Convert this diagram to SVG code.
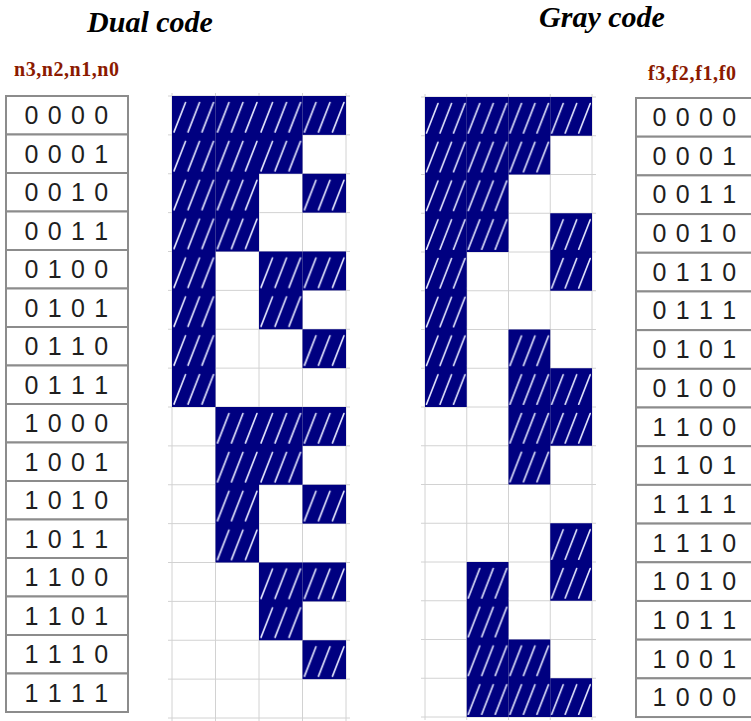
<svg xmlns="http://www.w3.org/2000/svg" width="751" height="721" viewBox="0 0 751 721">
<style>
.title{font-family:"Liberation Serif","Times New Roman",serif;font-weight:bold;font-style:italic;font-size:30px;fill:#000;text-anchor:middle}
.lab{font-family:"Liberation Serif","Times New Roman",serif;font-weight:bold;font-size:20px;fill:#8b1a00}
.tb{fill:#fff;stroke:#8c8c8c;stroke-width:2}
.num{font-family:"Liberation Sans",Arial,sans-serif;font-size:25px;fill:#1e1e1e;text-anchor:middle;letter-spacing:1.2px}
.grid{stroke:#d2d2d2;stroke-width:1;fill:none}
.h{stroke:#e8eaff;stroke-width:1.6;stroke-linecap:round}
</style>
<defs>
<pattern id="hatchL" patternUnits="userSpaceOnUse" x="172" y="96" width="43.5" height="38.875">
<rect width="43.5" height="38.875" fill="#000080"/>
<line class="h" x1="2" y1="36" x2="13.5" y2="6.5"/>
<line class="h" x1="16" y1="36" x2="27.5" y2="6.5"/>
<line class="h" x1="30" y1="36" x2="41.5" y2="6.5"/>
</pattern>
<pattern id="hatchR" patternUnits="userSpaceOnUse" x="425" y="97" width="41.75" height="38.75">
<rect width="41.75" height="38.75" fill="#000080"/>
<line class="h" x1="1.5" y1="36" x2="13" y2="6.5"/>
<line class="h" x1="15" y1="36" x2="26.5" y2="6.5"/>
<line class="h" x1="28.5" y1="36" x2="40" y2="6.5"/>
</pattern>
</defs>
<rect width="751" height="721" fill="#fff"/>

<g id="titles">
<text class="title" x="150" y="32">Dual code</text>
<text class="title" x="602" y="27">Gray code</text>
<text class="lab" x="14" y="76" textLength="105" lengthAdjust="spacing">n3,n2,n1,n0</text>
<text class="lab" x="648" y="80" textLength="88" lengthAdjust="spacing">f3,f2,f1,f0</text>
</g>

<g id="dual-table">
<rect class="tb" x="6" y="96" width="122" height="38.5"/><text class="num" x="67" y="124">0 0 0 0</text>
<rect class="tb" x="6" y="134.5" width="122" height="38.5"/><text class="num" x="67" y="162.5">0 0 0 1</text>
<rect class="tb" x="6" y="173" width="122" height="38.5"/><text class="num" x="67" y="201">0 0 1 0</text>
<rect class="tb" x="6" y="211.5" width="122" height="38.5"/><text class="num" x="67" y="239.5">0 0 1 1</text>
<rect class="tb" x="6" y="250" width="122" height="38.5"/><text class="num" x="67" y="278">0 1 0 0</text>
<rect class="tb" x="6" y="288.5" width="122" height="38.5"/><text class="num" x="67" y="316.5">0 1 0 1</text>
<rect class="tb" x="6" y="327" width="122" height="38.5"/><text class="num" x="67" y="355">0 1 1 0</text>
<rect class="tb" x="6" y="365.5" width="122" height="38.5"/><text class="num" x="67" y="393.5">0 1 1 1</text>
<rect class="tb" x="6" y="404" width="122" height="38.5"/><text class="num" x="67" y="432">1 0 0 0</text>
<rect class="tb" x="6" y="442.5" width="122" height="38.5"/><text class="num" x="67" y="470.5">1 0 0 1</text>
<rect class="tb" x="6" y="481" width="122" height="38.5"/><text class="num" x="67" y="509">1 0 1 0</text>
<rect class="tb" x="6" y="519.5" width="122" height="38.5"/><text class="num" x="67" y="547.5">1 0 1 1</text>
<rect class="tb" x="6" y="558" width="122" height="38.5"/><text class="num" x="67" y="586">1 1 0 0</text>
<rect class="tb" x="6" y="596.5" width="122" height="38.5"/><text class="num" x="67" y="624.5">1 1 0 1</text>
<rect class="tb" x="6" y="635" width="122" height="38.5"/><text class="num" x="67" y="663">1 1 1 0</text>
<rect class="tb" x="6" y="673.5" width="122" height="38.5"/><text class="num" x="67" y="701.5">1 1 1 1</text>
</g>

<g id="gray-table">
<rect class="tb" x="636" y="98" width="118" height="38.69"/><text class="num" x="695" y="126">0 0 0 0</text>
<rect class="tb" x="636" y="136.69" width="118" height="38.69"/><text class="num" x="695" y="164.69">0 0 0 1</text>
<rect class="tb" x="636" y="175.38" width="118" height="38.69"/><text class="num" x="695" y="203.38">0 0 1 1</text>
<rect class="tb" x="636" y="214.07" width="118" height="38.69"/><text class="num" x="695" y="242.07">0 0 1 0</text>
<rect class="tb" x="636" y="252.76" width="118" height="38.69"/><text class="num" x="695" y="280.76">0 1 1 0</text>
<rect class="tb" x="636" y="291.45" width="118" height="38.69"/><text class="num" x="695" y="319.45">0 1 1 1</text>
<rect class="tb" x="636" y="330.14" width="118" height="38.69"/><text class="num" x="695" y="358.14">0 1 0 1</text>
<rect class="tb" x="636" y="368.83" width="118" height="38.69"/><text class="num" x="695" y="396.83">0 1 0 0</text>
<rect class="tb" x="636" y="407.52" width="118" height="38.69"/><text class="num" x="695" y="435.52">1 1 0 0</text>
<rect class="tb" x="636" y="446.21" width="118" height="38.69"/><text class="num" x="695" y="474.21">1 1 0 1</text>
<rect class="tb" x="636" y="484.9" width="118" height="38.69"/><text class="num" x="695" y="512.9">1 1 1 1</text>
<rect class="tb" x="636" y="523.59" width="118" height="38.69"/><text class="num" x="695" y="551.59">1 1 1 0</text>
<rect class="tb" x="636" y="562.28" width="118" height="38.69"/><text class="num" x="695" y="590.28">1 0 1 0</text>
<rect class="tb" x="636" y="600.97" width="118" height="38.69"/><text class="num" x="695" y="628.97">1 0 1 1</text>
<rect class="tb" x="636" y="639.66" width="118" height="38.69"/><text class="num" x="695" y="667.66">1 0 0 1</text>
<rect class="tb" x="636" y="678.35" width="118" height="38.69"/><text class="num" x="695" y="706.35">1 0 0 0</text>
</g>

<g id="dual-grid">
<path class="grid" d="M168 96H350M168 134.875H350M168 173.75H350M168 212.625H350M168 251.5H350M168 290.375H350M168 329.25H350M168 368.125H350M168 407H350M168 445.875H350M168 484.75H350M168 523.625H350M168 562.5H350M168 601.375H350M168 640.25H350M168 679.125H350M168 718H350M172 93V721M215.5 93V721M259 93V721M302.5 93V721M346 93V721"/>
<g fill="url(#hatchL)">
<rect x="172" y="96" width="43.5" height="311"/>
<rect x="215.5" y="96" width="43.5" height="155.5"/>
<rect x="215.5" y="407" width="43.5" height="155.5"/>
<rect x="259" y="96" width="43.5" height="77.75"/>
<rect x="259" y="251.5" width="43.5" height="77.75"/>
<rect x="259" y="407" width="43.5" height="77.75"/>
<rect x="259" y="562.5" width="43.5" height="77.75"/>
<rect x="302.5" y="96" width="43.5" height="38.875"/>
<rect x="302.5" y="173.75" width="43.5" height="38.875"/>
<rect x="302.5" y="251.5" width="43.5" height="38.875"/>
<rect x="302.5" y="329.25" width="43.5" height="38.875"/>
<rect x="302.5" y="407" width="43.5" height="38.875"/>
<rect x="302.5" y="484.75" width="43.5" height="38.875"/>
<rect x="302.5" y="562.5" width="43.5" height="38.875"/>
<rect x="302.5" y="640.25" width="43.5" height="38.875"/>
</g>
</g>

<g id="gray-grid">
<path class="grid" d="M421 97H596M421 135.75H596M421 174.5H596M421 213.25H596M421 252H596M421 290.75H596M421 329.5H596M421 368.25H596M421 407H596M421 445.75H596M421 484.5H596M421 523.25H596M421 562H596M421 600.75H596M421 639.5H596M421 678.25H596M421 717H596M425 94V720M466.75 94V720M508.5 94V720M550.25 94V720M592 94V720"/>
<g fill="url(#hatchR)">
<rect x="425" y="97" width="41.75" height="310"/>
<rect x="466.75" y="97" width="41.75" height="155"/>
<rect x="466.75" y="562" width="41.75" height="155"/>
<rect x="508.5" y="97" width="41.75" height="77.5"/>
<rect x="508.5" y="329.5" width="41.75" height="155"/>
<rect x="508.5" y="639.5" width="41.75" height="77.5"/>
<rect x="550.25" y="97" width="41.75" height="38.75"/>
<rect x="550.25" y="213.25" width="41.75" height="77.5"/>
<rect x="550.25" y="368.25" width="41.75" height="77.5"/>
<rect x="550.25" y="523.25" width="41.75" height="77.5"/>
<rect x="550.25" y="678.25" width="41.75" height="38.75"/>
</g>
</g>
</svg>
